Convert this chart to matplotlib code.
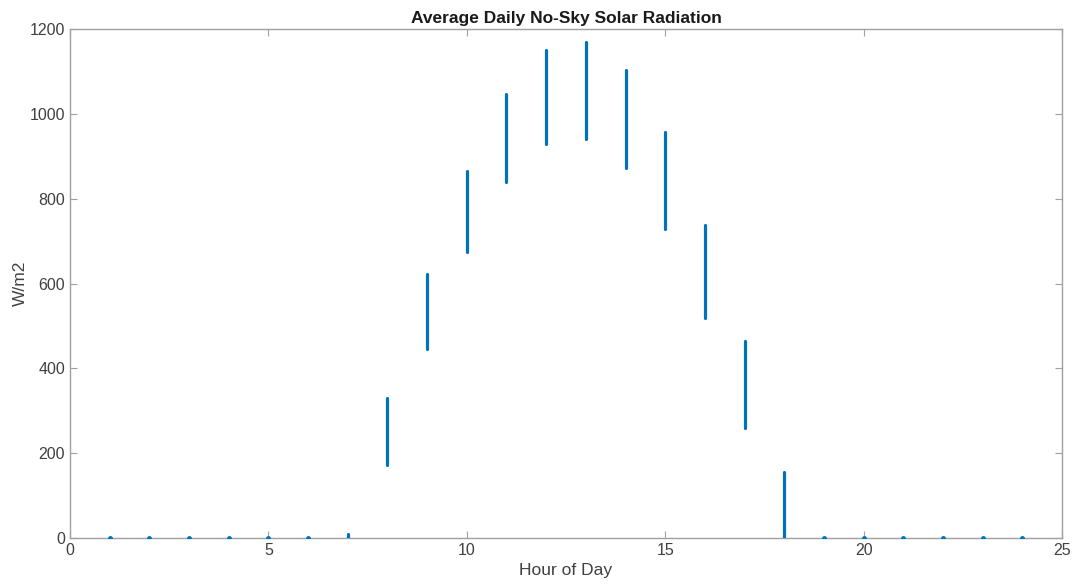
import matplotlib
matplotlib.use("Agg")
import matplotlib.pyplot as plt

# Hourly clear-sky radiation range across the year (W/m2)
hours = [1, 2, 3, 4, 5, 6, 7, 8, 9, 10, 11, 12,
         13, 14, 15, 16, 17, 18, 19, 20, 21, 22, 23, 24]
low = [0, 0, 0, 0, 0, 0, 0, 172, 445, 674, 839, 929,
       941, 872, 728, 519, 259, 0, 0, 0, 0, 0, 0, 0]
high = [0, 0, 0, 0, 0, 0, 10, 330, 622, 865, 1047, 1150,
        1169, 1103, 957, 738, 464, 155, 0, 0, 0, 0, 0, 0]

x_ticks = [0, 5, 10, 15, 20, 25]
y_ticks = [0, 200, 400, 600, 800, 1000, 1200]

plt.rcParams['font.family'] = ['Liberation Sans', 'DejaVu Sans']

blue = '#0072BD'
axis_col = '#a0a0a0'
text_col = '#404040'

fig = plt.figure(figsize=(10.73, 5.88), dpi=100)
ax = fig.add_axes([70 / 1073, 50 / 588, 992 / 1073, 509 / 588])

# spread of values within each hour
ax.vlines(hours, low, high, colors=blue, linewidth=2.3, capstyle='round', zorder=3)

# hours with no spread show up as single dots
flat_h = [h for h, lo, hi in zip(hours, low, high) if lo == hi]
flat_v = [lo for lo, hi in zip(low, high) if lo == hi]
ax.plot(flat_h, flat_v, linestyle='none', marker='.', markersize=5,
        color=blue, zorder=3)

ax.set_xlim(0, 25)
ax.set_ylim(0, 1200)
ax.set_xticks(x_ticks)
ax.set_yticks(y_ticks)

for s in ax.spines.values():
    s.set_color(axis_col)
    s.set_linewidth(1.0)
ax.tick_params(direction='in', length=5, width=0.8, color=axis_col,
               labelcolor=text_col, labelsize=11.5, top=True, right=True)

ax.set_title('Average Daily No-Sky Solar Radiation', fontsize=12.5,
             fontweight='bold', color='#1a1a1a', pad=4)
ax.set_xlabel('Hour of Day', fontsize=12.5, color=text_col, labelpad=4)
ax.set_ylabel('W/m2', fontsize=12.5, color=text_col, labelpad=1)

fig.savefig('out.png', dpi=100)
